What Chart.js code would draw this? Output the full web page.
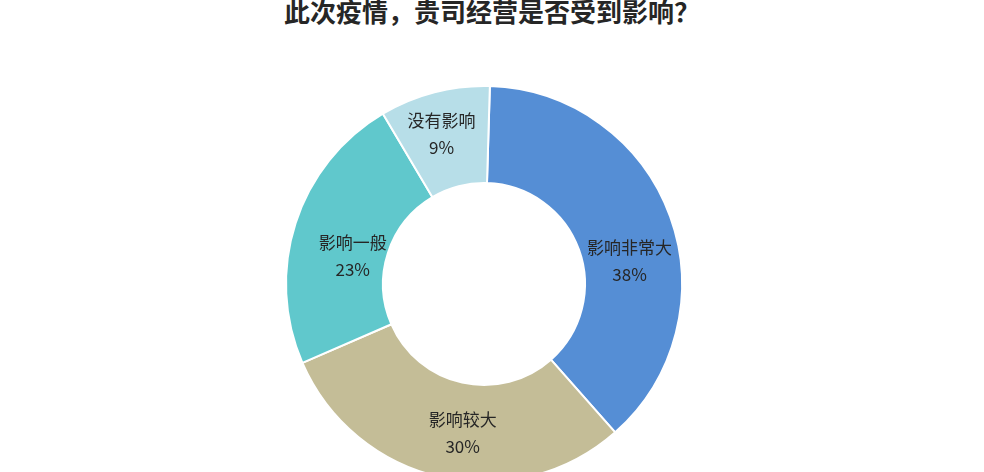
<!DOCTYPE html>
<html>
<head>
<meta charset="utf-8">
<script src="https://cdn.jsdelivr.net/npm/chart.js@4"></script>
<style>
  html, body { margin: 0; padding: 0; background: #fff; overflow: hidden; }
  #wrap { position: relative; width: 984px; height: 472px; overflow: hidden; }
  #title {
    position: absolute; left: 0; width: 984px; top: -8px; text-align: center;
    font: bold 26px "Noto Sans CJK SC", sans-serif; color: #262626;
  }
  canvas { position: absolute; left: 0; top: 0; }
</style>
</head>
<body>
<div id="wrap">
  <div id="title">此次疫情，贵司经营是否受到影响？</div>
  <canvas id="chart" width="984" height="500"></canvas>
</div>
<script>
const labels = ["影响非常大", "影响较大", "影响一般", "没有影响"];
const values = [38, 30, 23, 9];
const colors = ["#558ED5", "#C4BD97", "#60C8CC", "#B7DEE8"];

// small nudges so labels sit where the original placed them
const nudge = [[5, 14], [11, -10], [11, 4], [-5, -19]];

const sliceLabels = {
  id: "sliceLabels",
  afterDatasetsDraw(chart) {
    const ctx = chart.ctx;
    const meta = chart.getDatasetMeta(0);
    ctx.save();
    ctx.fillStyle = "#262626";
    ctx.textAlign = "center";
    ctx.textBaseline = "middle";
    ctx.font = '17px "Noto Sans CJK SC", sans-serif';
    meta.data.forEach((arc, i) => {
      const p = arc.tooltipPosition();
      const x = p.x + nudge[i][0];
      const y = p.y + nudge[i][1];
      ctx.fillText(labels[i], x, y);
      ctx.fillText(values[i] + "%", x, y + 27);
    });
    ctx.restore();
  }
};

new Chart(document.getElementById("chart"), {
  type: "doughnut",
  data: {
    labels: labels,
    datasets: [{
      data: values,
      backgroundColor: colors,
      borderColor: "#fff",
      borderWidth: 2
    }]
  },
  options: {
    responsive: false,
    animation: false,
    cutout: "51%",
    rotation: 1.7,
    layout: { padding: { top: 85, bottom: 17, left: 0, right: 16 } },
    plugins: {
      legend: { display: false },
      tooltip: { enabled: false }
    }
  },
  plugins: [sliceLabels]
});
</script>
</body>
</html>
